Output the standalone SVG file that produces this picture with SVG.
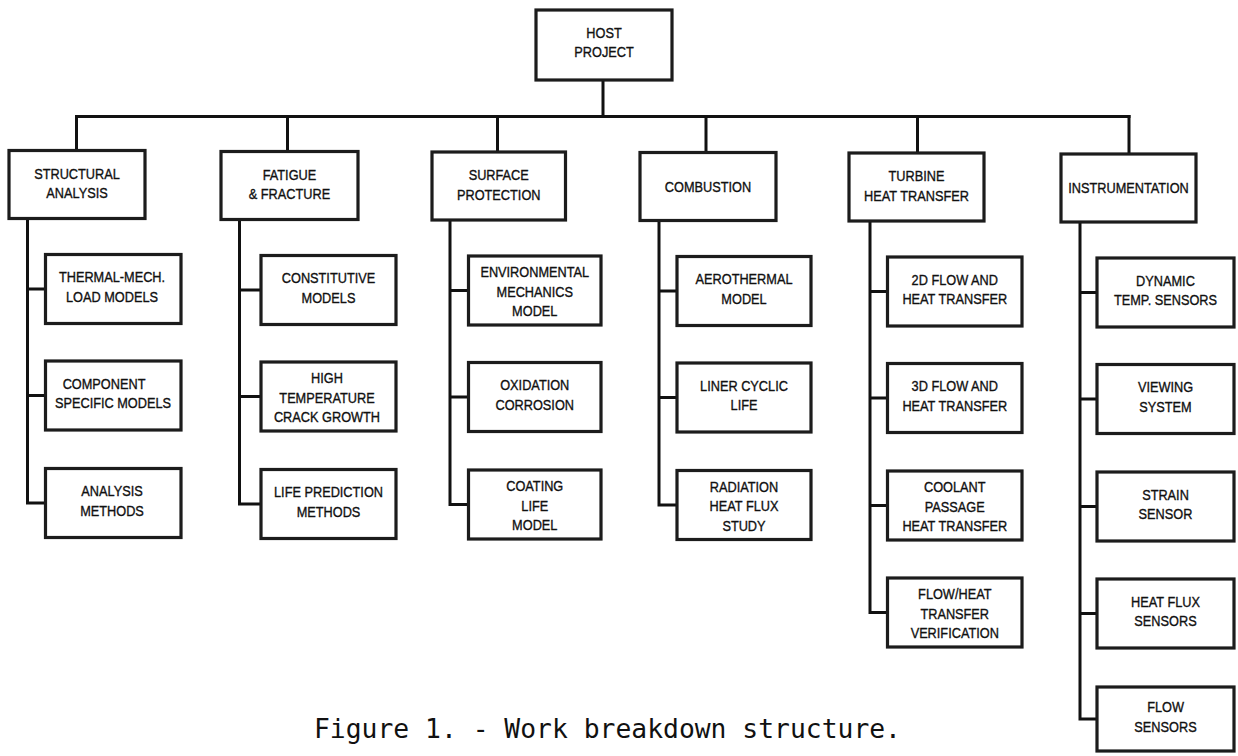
<svg xmlns="http://www.w3.org/2000/svg" width="1238" height="756" viewBox="0 0 1238 756">
<style>
  .bg { fill: #ffffff; }
  .box { fill: #ffffff; stroke: #1c1c1c; stroke-width: 3.2; }
  .wire { fill: none; stroke: #111111; stroke-width: 3; stroke-linecap: square; }
  .t { font-family: "Liberation Sans", Arial, sans-serif; font-size: 15px; fill: #111111; stroke: #111111; stroke-width: 0.35; text-anchor: middle; transform-box: fill-box; transform-origin: center; transform: scaleX(0.85); }
  .cap { font-family: "DejaVu Sans Mono", "Liberation Mono", monospace; font-size: 26px; fill: #111111; }
</style>
<rect class="bg" x="0" y="0" width="1238" height="756"/>

<g id="connectors">
  <path class="wire" d="M603 80 V116.5 M76.5 116.5 H1129"/>
  <path class="wire" d="M76.5 116.5 V150.5 M287.5 116.5 V151.5 M497.5 116.5 V152 M706 116.5 V152.5 M917.5 116.5 V153 M1129 116.5 V154"/>
  <path class="wire" d="M27.5 218.5 V503 M27.5 289 H45.5 M27.5 395.5 H45.5 M27.5 503 H45.5"/>
  <path class="wire" d="M239.5 219.5 V504 M239.5 290 H261 M239.5 396.5 H261 M239.5 504 H261"/>
  <path class="wire" d="M450 220 V504.5 M450 290.5 H468.5 M450 397 H468.5 M450 504.5 H468.5"/>
  <path class="wire" d="M659 220.5 V505 M659 291 H677 M659 397.5 H677 M659 505 H677"/>
  <path class="wire" d="M870 221 V612.5 M870 291.5 H887.5 M870 398 H887.5 M870 505.5 H887.5 M870 612.5 H887.5"/>
  <path class="wire" d="M1080 222 V719 M1080 292.5 H1097 M1080 399 H1097 M1080 506.5 H1097 M1080 613.5 H1097 M1080 719 H1097"/>
</g>

<g id="host">
  <rect class="box" x="536" y="10" width="136" height="70"/>
  <text class="t" x="604" y="38.5">HOST</text>
  <text class="t" x="604" y="57.5">PROJECT</text>
</g>

<!-- Level 1 -->
<g id="structural">
  <rect class="box" x="9" y="150.5" width="136" height="68"/>
  <text class="t" x="77" y="179">STRUCTURAL</text>
  <text class="t" x="77" y="198.3">ANALYSIS</text>
</g>
<g id="fatigue">
  <rect class="box" x="221" y="151.5" width="137" height="68"/>
  <text class="t" x="289.5" y="180">FATIGUE</text>
  <text class="t" x="289.5" y="199.3">&amp; FRACTURE</text>
</g>
<g id="surface">
  <rect class="box" x="432" y="152" width="133.5" height="68"/>
  <text class="t" x="498.75" y="180.5">SURFACE</text>
  <text class="t" x="498.75" y="199.8">PROTECTION</text>
</g>
<g id="combustion">
  <rect class="box" x="640" y="152.5" width="136" height="68"/>
  <text class="t" x="708" y="192">COMBUSTION</text>
</g>
<g id="turbine">
  <rect class="box" x="849" y="153" width="135" height="68"/>
  <text class="t" x="916.5" y="181.5">TURBINE</text>
  <text class="t" x="916.5" y="200.8">HEAT TRANSFER</text>
</g>
<g id="instrumentation">
  <rect class="box" x="1061" y="154" width="135" height="68"/>
  <text class="t" x="1128.5" y="193.5">INSTRUMENTATION</text>
</g>

<!-- Structural children -->
<g id="thermal-mech">
  <rect class="box" x="45.5" y="254.5" width="135.5" height="69"/>
  <text class="t" x="112" y="282.5">THERMAL-MECH.</text>
  <text class="t" x="112" y="302">LOAD MODELS</text>
</g>
<g id="component-specific">
  <rect class="box" x="45.5" y="361" width="135.5" height="69"/>
  <text class="t" x="104" y="389">COMPONENT</text>
  <text class="t" x="113" y="408.5">SPECIFIC MODELS</text>
</g>
<g id="analysis-methods">
  <rect class="box" x="45.5" y="468.5" width="135.5" height="69"/>
  <text class="t" x="112" y="496.5">ANALYSIS</text>
  <text class="t" x="112" y="516">METHODS</text>
</g>

<!-- Fatigue children -->
<g id="constitutive">
  <rect class="box" x="261" y="255.5" width="135" height="69"/>
  <text class="t" x="328.5" y="283.5">CONSTITUTIVE</text>
  <text class="t" x="328.5" y="303">MODELS</text>
</g>
<g id="crack-growth">
  <rect class="box" x="261" y="362" width="135" height="69"/>
  <text class="t" x="327" y="383.5">HIGH</text>
  <text class="t" x="327" y="402.8">TEMPERATURE</text>
  <text class="t" x="327" y="422.1">CRACK GROWTH</text>
</g>
<g id="life-prediction">
  <rect class="box" x="261" y="469.5" width="135" height="69"/>
  <text class="t" x="328.5" y="497.5">LIFE PREDICTION</text>
  <text class="t" x="328.5" y="517">METHODS</text>
</g>

<!-- Surface children -->
<g id="environmental">
  <rect class="box" x="468.5" y="256" width="132.5" height="69"/>
  <text class="t" x="534.75" y="277.5">ENVIRONMENTAL</text>
  <text class="t" x="534.75" y="296.8">MECHANICS</text>
  <text class="t" x="534.75" y="316.1">MODEL</text>
</g>
<g id="oxidation">
  <rect class="box" x="468.5" y="362.5" width="132.5" height="69"/>
  <text class="t" x="534.75" y="390.5">OXIDATION</text>
  <text class="t" x="534.75" y="410">CORROSION</text>
</g>
<g id="coating">
  <rect class="box" x="468.5" y="470" width="132.5" height="69"/>
  <text class="t" x="534.75" y="491.5">COATING</text>
  <text class="t" x="534.75" y="510.8">LIFE</text>
  <text class="t" x="534.75" y="530.1">MODEL</text>
</g>

<!-- Combustion children -->
<g id="aerothermal">
  <rect class="box" x="677" y="256.5" width="134" height="69"/>
  <text class="t" x="744" y="284.5">AEROTHERMAL</text>
  <text class="t" x="744" y="304">MODEL</text>
</g>
<g id="liner">
  <rect class="box" x="677" y="363" width="134" height="69"/>
  <text class="t" x="744" y="391">LINER CYCLIC</text>
  <text class="t" x="744" y="410.5">LIFE</text>
</g>
<g id="radiation">
  <rect class="box" x="677" y="470.5" width="134" height="69"/>
  <text class="t" x="744" y="492">RADIATION</text>
  <text class="t" x="744" y="511.3">HEAT FLUX</text>
  <text class="t" x="744" y="530.6">STUDY</text>
</g>

<!-- Turbine children -->
<g id="flow-2d">
  <rect class="box" x="887.5" y="257" width="134.5" height="69"/>
  <text class="t" x="954.75" y="285">2D FLOW AND</text>
  <text class="t" x="954.75" y="304.5">HEAT TRANSFER</text>
</g>
<g id="flow-3d">
  <rect class="box" x="887.5" y="363.5" width="134.5" height="69"/>
  <text class="t" x="954.75" y="391.5">3D FLOW AND</text>
  <text class="t" x="954.75" y="411">HEAT TRANSFER</text>
</g>
<g id="coolant">
  <rect class="box" x="887.5" y="471" width="134.5" height="69"/>
  <text class="t" x="954.75" y="492.5">COOLANT</text>
  <text class="t" x="954.75" y="511.8">PASSAGE</text>
  <text class="t" x="954.75" y="531.1">HEAT TRANSFER</text>
</g>
<g id="verification">
  <rect class="box" x="887.5" y="578" width="134.5" height="69"/>
  <text class="t" x="954.75" y="599.5">FLOW/HEAT</text>
  <text class="t" x="954.75" y="618.8">TRANSFER</text>
  <text class="t" x="954.75" y="638.1">VERIFICATION</text>
</g>

<!-- Instrumentation children -->
<g id="dynamic-temp">
  <rect class="box" x="1097" y="258" width="137" height="69"/>
  <text class="t" x="1165.5" y="286">DYNAMIC</text>
  <text class="t" x="1165.5" y="305.5">TEMP.  SENSORS</text>
</g>
<g id="viewing">
  <rect class="box" x="1097" y="364.5" width="137" height="69"/>
  <text class="t" x="1165.5" y="392.5">VIEWING</text>
  <text class="t" x="1165.5" y="412">SYSTEM</text>
</g>
<g id="strain">
  <rect class="box" x="1097" y="472" width="137" height="69"/>
  <text class="t" x="1165.5" y="500">STRAIN</text>
  <text class="t" x="1165.5" y="519.5">SENSOR</text>
</g>
<g id="heat-flux-sensors">
  <rect class="box" x="1097" y="579" width="137" height="69"/>
  <text class="t" x="1165.5" y="607">HEAT FLUX</text>
  <text class="t" x="1165.5" y="626.5">SENSORS</text>
</g>
<g id="flow-sensors">
  <rect class="box" x="1097" y="687" width="137" height="64"/>
  <text class="t" x="1165.5" y="712.5">FLOW</text>
  <text class="t" x="1165.5" y="732">SENSORS</text>
</g>

<text class="cap" x="314" y="738" textLength="587" lengthAdjust="spacingAndGlyphs">Figure 1. - Work breakdown structure.</text>
</svg>
